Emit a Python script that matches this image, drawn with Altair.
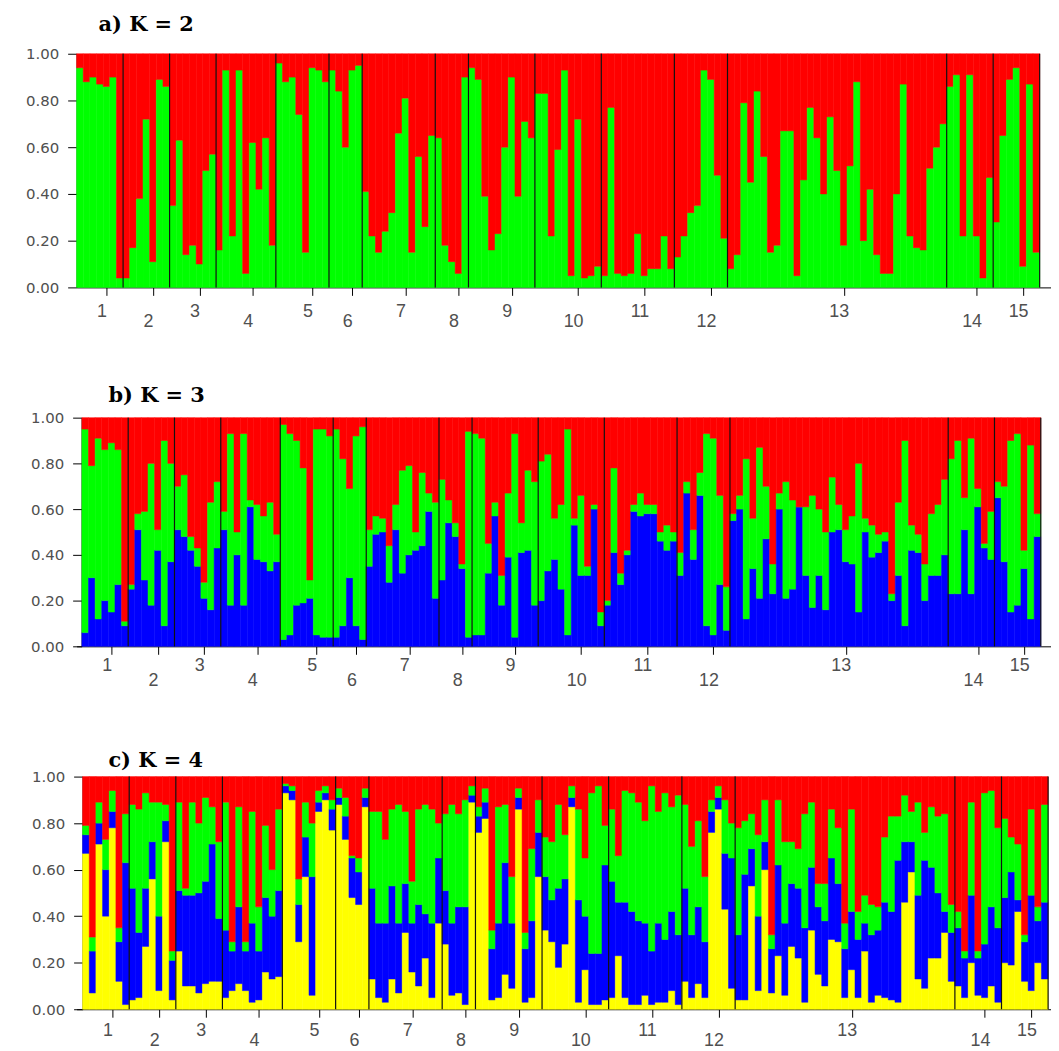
import altair as alt
import pandas as pd

POPS = [str(i) for i in range(1, 16)]
POP_SIZES = [7, 7, 7, 9, 8, 5, 11, 5, 10, 10, 11, 8, 33, 7, 7]

# ---- K = 2 : green membership (red = rest), one row per population ----
K2_GREEN = [
    [0.94, 0.88, 0.90, 0.87, 0.86, 0.90, 0.04],
    [0.04, 0.17, 0.38, 0.72, 0.11, 0.89, 0.86],
    [0.35, 0.63, 0.14, 0.18, 0.10, 0.50, 0.57],
    [0.16, 0.93, 0.22, 0.93, 0.06, 0.62, 0.42, 0.64, 0.18],
    [0.96, 0.88, 0.90, 0.74, 0.15, 0.94, 0.93, 0.88],
    [0.93, 0.84, 0.60, 0.93, 0.95],
    [0.41, 0.22, 0.15, 0.24, 0.32, 0.66, 0.81, 0.15, 0.56, 0.26, 0.65],
    [0.64, 0.18, 0.11, 0.06, 0.90],
    [0.94, 0.89, 0.39, 0.16, 0.23, 0.60, 0.90, 0.39, 0.71, 0.64],
    [0.83, 0.83, 0.22, 0.59, 0.93, 0.05, 0.72, 0.04, 0.05, 0.09],
    [0.05, 0.77, 0.06, 0.05, 0.06, 0.23, 0.05, 0.08, 0.08, 0.22, 0.08],
    [0.13, 0.22, 0.32, 0.35, 0.93, 0.89, 0.48, 0.21],
    [0.08, 0.14, 0.79, 0.45, 0.84, 0.56, 0.15, 0.18, 0.67, 0.67, 0.05, 0.46, 0.77, 0.64, 0.40, 0.73, 0.50,
     0.18, 0.52, 0.88, 0.20, 0.42, 0.14, 0.06, 0.06, 0.40, 0.87, 0.22, 0.17, 0.16, 0.51, 0.60, 0.70],
    [0.86, 0.91, 0.22, 0.91, 0.22, 0.04, 0.47],
    [0.28, 0.65, 0.89, 0.94, 0.09, 0.87, 0.15],
]

# ---- K = 3 : cumulative tops (blue, then blue+green); red = rest ----
K3_BLUE_TOP = [
    [0.06, 0.30, 0.12, 0.20, 0.15, 0.27, 0.09],
    [0.25, 0.51, 0.29, 0.18, 0.42, 0.09, 0.37],
    [0.51, 0.48, 0.42, 0.35, 0.21, 0.16, 0.43],
    [0.51, 0.18, 0.40, 0.18, 0.61, 0.38, 0.37, 0.33, 0.37],
    [0.03, 0.05, 0.18, 0.19, 0.21, 0.05, 0.04, 0.04],
    [0.04, 0.09, 0.30, 0.09, 0.03],
    [0.35, 0.49, 0.50, 0.28, 0.51, 0.32, 0.40, 0.42, 0.44, 0.59, 0.21],
    [0.29, 0.54, 0.48, 0.34, 0.04],
    [0.05, 0.05, 0.32, 0.57, 0.18, 0.39, 0.04, 0.41, 0.42, 0.18],
    [0.20, 0.33, 0.38, 0.25, 0.05, 0.53, 0.31, 0.31, 0.60, 0.09],
    [0.18, 0.41, 0.27, 0.40, 0.59, 0.57, 0.58, 0.58, 0.46, 0.42, 0.46],
    [0.31, 0.67, 0.38, 0.66, 0.09, 0.05, 0.27, 0.07],
    [0.55, 0.60, 0.12, 0.34, 0.21, 0.47, 0.23, 0.60, 0.21, 0.25, 0.61, 0.31, 0.17, 0.31, 0.16, 0.50, 0.51,
     0.37, 0.36, 0.15, 0.50, 0.39, 0.41, 0.46, 0.20, 0.31, 0.09, 0.42, 0.41, 0.20, 0.31, 0.31, 0.40],
    [0.23, 0.23, 0.51, 0.23, 0.61, 0.43, 0.38],
    [0.65, 0.37, 0.15, 0.18, 0.34, 0.12, 0.48],
]
K3_GREEN_TOP = [
    [0.95, 0.79, 0.91, 0.86, 0.89, 0.86, 0.11],
    [0.27, 0.58, 0.59, 0.80, 0.51, 0.90, 0.80],
    [0.70, 0.75, 0.48, 0.43, 0.28, 0.63, 0.72],
    [0.59, 0.93, 0.50, 0.93, 0.64, 0.62, 0.57, 0.63, 0.49],
    [0.97, 0.93, 0.90, 0.78, 0.29, 0.95, 0.95, 0.92],
    [0.95, 0.82, 0.69, 0.92, 0.96],
    [0.51, 0.57, 0.56, 0.44, 0.62, 0.77, 0.79, 0.50, 0.76, 0.67, 0.63],
    [0.73, 0.64, 0.54, 0.36, 0.94],
    [0.93, 0.91, 0.45, 0.63, 0.31, 0.67, 0.93, 0.54, 0.77, 0.72],
    [0.81, 0.84, 0.56, 0.62, 0.95, 0.56, 0.66, 0.35, 0.62, 0.15],
    [0.20, 0.78, 0.32, 0.42, 0.62, 0.67, 0.62, 0.62, 0.50, 0.53, 0.50],
    [0.41, 0.72, 0.51, 0.76, 0.93, 0.91, 0.66, 0.26],
    [0.58, 0.66, 0.82, 0.56, 0.87, 0.70, 0.36, 0.67, 0.72, 0.64, 0.61, 0.61, 0.66, 0.60, 0.50, 0.74, 0.62,
     0.51, 0.57, 0.80, 0.56, 0.53, 0.49, 0.50, 0.23, 0.63, 0.90, 0.53, 0.49, 0.36, 0.58, 0.62, 0.73],
    [0.82, 0.90, 0.65, 0.91, 0.69, 0.45, 0.59],
    [0.72, 0.70, 0.90, 0.93, 0.42, 0.88, 0.58],
]

# ---- K = 4 : cumulative tops (yellow, +blue, +green); red = rest ----
K4_YELLOW_TOP = [
    [0.67, 0.07, 0.71, 0.40, 0.78, 0.12, 0.02],
    [0.04, 0.05, 0.27, 0.56, 0.08, 0.72, 0.04],
    [0.25, 0.10, 0.10, 0.07, 0.11, 0.12, 0.12],
    [0.05, 0.08, 0.11, 0.08, 0.03, 0.04, 0.16, 0.13, 0.14],
    [0.93, 0.90, 0.29, 0.57, 0.06, 0.85, 0.90, 0.77],
    [0.88, 0.73, 0.48, 0.45, 0.87],
    [0.13, 0.05, 0.03, 0.13, 0.07, 0.33, 0.16, 0.10, 0.22, 0.05, 0.37],
    [0.28, 0.06, 0.07, 0.02, 0.89],
    [0.76, 0.82, 0.04, 0.05, 0.15, 0.09, 0.86, 0.03, 0.05, 0.57],
    [0.34, 0.29, 0.18, 0.28, 0.87, 0.03, 0.17, 0.02, 0.02, 0.04],
    [0.05, 0.23, 0.05, 0.02, 0.02, 0.06, 0.02, 0.03, 0.03, 0.08, 0.02],
    [0.12, 0.05, 0.11, 0.05, 0.76, 0.86, 0.43, 0.09],
    [0.04, 0.04, 0.53, 0.08, 0.60, 0.07, 0.23, 0.06, 0.27, 0.22, 0.03, 0.34, 0.15, 0.10, 0.30, 0.29, 0.05,
     0.17, 0.05, 0.25, 0.03, 0.06, 0.05, 0.04, 0.03, 0.46, 0.59, 0.13, 0.09, 0.22, 0.22, 0.33, 0.12],
    [0.10, 0.05, 0.20, 0.06, 0.05, 0.10, 0.03],
    [0.20, 0.19, 0.42, 0.12, 0.08, 0.20, 0.13],
]
K4_BLUE_TOP = [
    [0.75, 0.25, 0.80, 0.60, 0.85, 0.29, 0.63],
    [0.52, 0.33, 0.52, 0.72, 0.40, 0.81, 0.21],
    [0.51, 0.49, 0.49, 0.50, 0.55, 0.71, 0.39],
    [0.34, 0.25, 0.44, 0.25, 0.37, 0.25, 0.48, 0.40, 0.51],
    [0.96, 0.94, 0.45, 0.74, 0.57, 0.89, 0.93, 0.86],
    [0.91, 0.83, 0.65, 0.59, 0.91],
    [0.52, 0.37, 0.37, 0.53, 0.37, 0.54, 0.37, 0.45, 0.41, 0.37, 0.65],
    [0.51, 0.37, 0.44, 0.44, 0.92],
    [0.83, 0.89, 0.26, 0.37, 0.63, 0.37, 0.91, 0.26, 0.38, 0.76],
    [0.57, 0.47, 0.52, 0.56, 0.91, 0.47, 0.40, 0.24, 0.24, 0.62],
    [0.55, 0.46, 0.46, 0.42, 0.38, 0.37, 0.25, 0.37, 0.30, 0.42, 0.32],
    [0.52, 0.32, 0.44, 0.29, 0.85, 0.91, 0.67, 0.65],
    [0.32, 0.58, 0.69, 0.40, 0.72, 0.26, 0.62, 0.37, 0.54, 0.52, 0.35, 0.61, 0.44, 0.38, 0.65, 0.54, 0.26,
     0.42, 0.30, 0.37, 0.32, 0.34, 0.46, 0.42, 0.64, 0.72, 0.72, 0.49, 0.64, 0.61, 0.50, 0.42, 0.33],
    [0.35, 0.22, 0.49, 0.22, 0.28, 0.44, 0.35],
    [0.48, 0.59, 0.47, 0.29, 0.49, 0.38, 0.46],
]
K4_GREEN_TOP = [
    [0.79, 0.31, 0.89, 0.73, 0.94, 0.35, 0.84],
    [0.88, 0.86, 0.93, 0.89, 0.89, 0.88, 0.25],
    [0.89, 0.52, 0.89, 0.80, 0.91, 0.87, 0.72],
    [0.89, 0.29, 0.87, 0.29, 0.85, 0.44, 0.79, 0.60, 0.86],
    [0.97, 0.96, 0.56, 0.89, 0.80, 0.94, 0.96, 0.90],
    [0.95, 0.91, 0.66, 0.65, 0.95],
    [0.85, 0.85, 0.73, 0.86, 0.88, 0.85, 0.55, 0.86, 0.88, 0.86, 0.80],
    [0.84, 0.88, 0.84, 0.90, 0.96],
    [0.87, 0.95, 0.34, 0.87, 0.88, 0.57, 0.95, 0.33, 0.69, 0.90],
    [0.74, 0.72, 0.88, 0.75, 0.96, 0.86, 0.65, 0.93, 0.96, 0.79],
    [0.86, 0.66, 0.94, 0.93, 0.89, 0.81, 0.96, 0.85, 0.93, 0.87, 0.92],
    [0.88, 0.70, 0.81, 0.57, 0.90, 0.96, 0.90, 0.80],
    [0.78, 0.81, 0.84, 0.75, 0.90, 0.32, 0.90, 0.72, 0.72, 0.69, 0.84, 0.89, 0.54, 0.54, 0.86, 0.78, 0.37,
     0.86, 0.42, 0.49, 0.45, 0.44, 0.74, 0.83, 0.83, 0.92, 0.85, 0.89, 0.76, 0.87, 0.83, 0.84, 0.45],
    [0.42, 0.25, 0.89, 0.25, 0.93, 0.94, 0.78],
    [0.82, 0.74, 0.71, 0.32, 0.86, 0.44, 0.88],
]

CLUSTERS = ["yellow", "blue", "green", "red"]
CLUSTER_COLORS = ["#ffff00", "#0000ff", "#00ff00", "#ff0000"]


def flat(nested):
    return [v for grp in nested for v in grp]


def segments(layers):
    """layers: list of (cluster_name, flat cumulative tops); red fills to 1."""
    n = len(layers[0][1])
    rows = []
    for i in range(n):
        lo = 0.0
        for name, tops in layers:
            hi = max(lo, tops[i])
            rows.append({"x0": i, "x1": i + 1, "y0": lo, "y1": hi, "cluster": name})
            lo = hi
        rows.append({"x0": i, "x1": i + 1, "y0": lo, "y1": 1.0, "cluster": "red"})
    return pd.DataFrame(rows)


# population boundaries and tick positions (bar index units)
starts, ends, s = [], [], 0
for n in POP_SIZES:
    starts.append(s)
    s += n
    ends.append(s)
TICKS = [st + n // 2 + 1.5 for st, n in zip(starts, POP_SIZES)]
bounds_df = pd.DataFrame({"b": ends})

label_items = []
for k, p in enumerate(POPS):
    label_items.append(f"'{p}'" if k % 2 == 0 else f"['','{p}']")
LABEL_EXPR = ("[" + ",".join(label_items) + "][indexof(["
              + ",".join(str(t) for t in TICKS) + "], datum.value)]")

cscale = alt.Scale(domain=CLUSTERS, range=CLUSTER_COLORS)
W = 980


def panel(df, title, dom, height, title_dx, title_off, lab_pad, lab_lh, yoff):
    xscale = alt.Scale(domain=dom, nice=False, zero=False)
    yscale = alt.Scale(domain=[0, 1], nice=False)
    xaxis = alt.Axis(values=TICKS, labelExpr=LABEL_EXPR, title=None, grid=False,
                     domainColor="black", domainWidth=1, tickColor="black", tickSize=8,
                     tickWidth=1, labelFont="Liberation Sans", labelFontSize=18,
                     labelColor="#505050", labelOffset=-5, labelPadding=lab_pad,
                     labelLineHeight=lab_lh, labelBaseline="top", labelAlign="center",
                     labelFlush=False, labelOverlap=False)
    yaxis = alt.Axis(values=[0, 0.2, 0.4, 0.6, 0.8, 1.0], format=".2f", title=None,
                     grid=False, domainColor="black", domainWidth=1, tickColor="black",
                     tickSize=9, labelFont="DejaVu Sans", labelFontSize=15,
                     labelColor="#505050", labelPadding=9, offset=yoff)
    bars = alt.Chart(df).mark_rect(strokeWidth=0.5).encode(
        x=alt.X("x0:Q", scale=xscale, axis=xaxis),
        x2="x1:Q",
        y=alt.Y("y0:Q", scale=yscale, axis=yaxis),
        y2="y1:Q",
        color=alt.Color("cluster:N", scale=cscale, legend=None),
        stroke=alt.Stroke("cluster:N", scale=cscale, legend=None),
    )
    seps = alt.Chart(bounds_df).mark_rule(color="#111111", strokeWidth=1.2).encode(
        x=alt.X("b:Q", scale=xscale, axis=xaxis)
    )
    return alt.layer(bars, seps).properties(
        width=W, height=height,
        title=alt.TitleParams(title, anchor="start", frame="group", dx=title_dx,
                              offset=title_off, baseline="alphabetic",
                              font="DejaVu Serif", fontSize=21, fontWeight="bold",
                              color="black"),
    )


df_a = segments([("green", flat(K2_GREEN))])
df_b = segments([("blue", flat(K3_BLUE_TOP)), ("green", flat(K3_GREEN_TOP))])
df_c = segments([("yellow", flat(K4_YELLOW_TOP)), ("blue", flat(K4_BLUE_TOP)),
                 ("green", flat(K4_GREEN_TOP))])

pa = panel(df_a, "a) K = 2", [0, W / 6.68], 235, 22, -4.9, 7, 10, 0)
pb = panel(df_b, "b) K = 3", [-0.8, -0.8 + W / 6.651], 230, 32, -12, 2, 15, -5)
pc = panel(df_c, "c) K = 4", [-0.9, -0.9 + W / 6.697], 234, 32, -18, 4, 10, -6)

chart = alt.vconcat(pa, pb, pc, spacing=131, bounds="flush").properties(
    padding={"left": 17, "top": 2, "right": 0, "bottom": 0}
).configure_view(stroke=None)

chart.save("out.html", embed_options={"renderer": "svg", "actions": False})
